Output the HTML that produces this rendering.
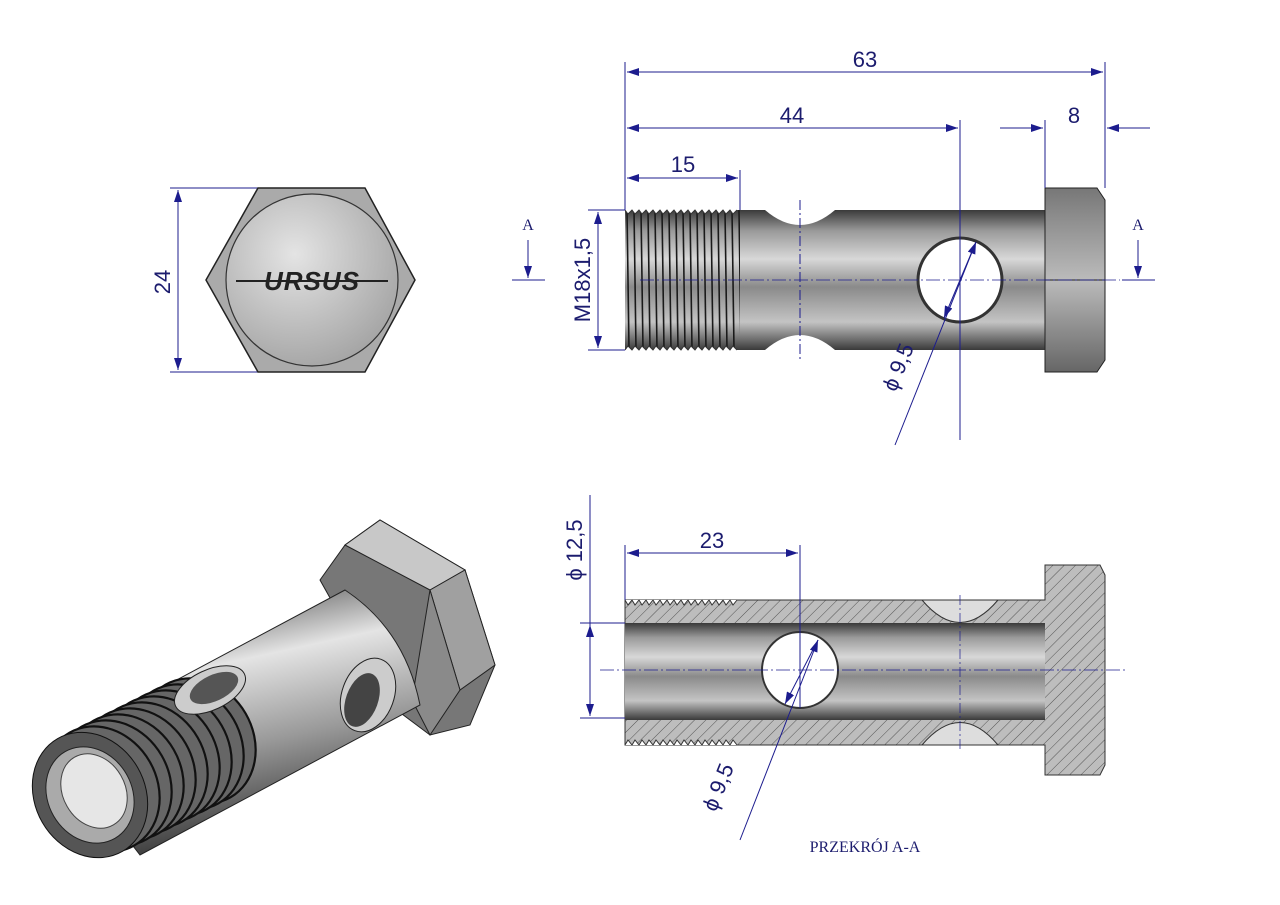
<!DOCTYPE html>
<html><head><meta charset="utf-8"><style>
html,body{margin:0;padding:0;background:#fff;width:1280px;height:905px;overflow:hidden}
svg text{font-family:"Liberation Sans",sans-serif;fill:#1c1c6e}
</style></head><body>
<svg width="1280" height="905" viewBox="0 0 1280 905" xmlns="http://www.w3.org/2000/svg">
<defs>
<linearGradient id="cyl" x1="0" y1="0" x2="0" y2="1">
<stop offset="0" stop-color="#3a3a3a"/><stop offset="0.15" stop-color="#9a9a9a"/><stop offset="0.35" stop-color="#d8d8d8"/><stop offset="0.55" stop-color="#8a8a8a"/><stop offset="0.8" stop-color="#c4c4c4"/><stop offset="1" stop-color="#3a3a3a"/></linearGradient>
<linearGradient id="head" x1="0" y1="0" x2="0" y2="1">
<stop offset="0" stop-color="#777"/><stop offset="0.5" stop-color="#bbb"/><stop offset="1" stop-color="#666"/></linearGradient>
<radialGradient id="face" cx="0.4" cy="0.35" r="0.8"><stop offset="0" stop-color="#e4e4e4"/><stop offset="1" stop-color="#9a9a9a"/></radialGradient>
<linearGradient id="iso" x1="0.3" y1="0" x2="0.6" y2="1">
<stop offset="0" stop-color="#444"/><stop offset="0.3" stop-color="#e4e4e4"/><stop offset="0.6" stop-color="#999"/><stop offset="1" stop-color="#222"/></linearGradient>
<pattern id="hatch" width="8" height="8" patternUnits="userSpaceOnUse" patternTransform="rotate(45)">
<rect width="8" height="8" fill="#bdbdbd"/><line x1="0" y1="0" x2="0" y2="8" stroke="#555" stroke-width="1"/></pattern>
<pattern id="thr" width="7" height="140" patternUnits="userSpaceOnUse" x="625" y="210">
<line x1="2" y1="0" x2="4" y2="140" stroke="#1a1a1a" stroke-width="1.6"/></pattern>
<marker id="ar" markerWidth="12" markerHeight="8" refX="12" refY="4" orient="auto-start-reverse" markerUnits="userSpaceOnUse"><path d="M0,0 L12,4 L0,8 Z" fill="#1c1c8e"/></marker>
</defs>
<g stroke="#1c1c8e" stroke-width="1" fill="none">
<line x1="170" y1="188" x2="260" y2="188"/><line x1="170" y1="372" x2="260" y2="372"/>
<line x1="178" y1="190" x2="178" y2="370" marker-start="url(#ar)" marker-end="url(#ar)"/>
</g>
<polygon points="258,188 365,188 415,280 365,372 258,372 206,280" fill="#aaa" stroke="#222" stroke-width="1.5"/>
<circle cx="312" cy="280" r="86" fill="url(#face)" stroke="#333" stroke-width="1.2"/>
<text x="312" y="290" font-size="26" font-weight="bold" text-anchor="middle" style="fill:#222;letter-spacing:1px;font-style:italic">URSUS</text>
<line x1="236" y1="281" x2="388" y2="281" stroke="#222" stroke-width="2"/>
<text x="176" y="282" font-size="22" text-anchor="middle" transform="rotate(-90 176 282)" dy="-6">24</text>

<!-- side view -->
<rect x="740" y="210" width="305" height="140" fill="url(#cyl)"/>
<path d="M765,210 Q800,240 835,210 Z" fill="#fff"/>
<path d="M765,350 Q800,320 835,350 Z" fill="#fff"/>
<rect x="625" y="210" width="115" height="140" fill="url(#cyl)"/>
<rect x="625" y="210" width="115" height="140" fill="url(#thr)"/>
<path d="M625,210 l3,4 l4,-4 l3,4 l4,-4 l3,4 l4,-4 l3,4 l4,-4 l3,4 l4,-4 l3,4 l4,-4 l3,4 l4,-4 l3,4 l4,-4 l3,4 l4,-4 l3,4 l4,-4 l3,4 l4,-4 l3,4 l4,-4 l3,4 l4,-4 l3,4 l4,-4 l3,4 l4,-4 l3,4 l4,-4" fill="#fff" stroke="#333"/>
<path d="M625,350 l3,-4 l4,4 l3,-4 l4,4 l3,-4 l4,4 l3,-4 l4,4 l3,-4 l4,4 l3,-4 l4,4 l3,-4 l4,4 l3,-4 l4,4 l3,-4 l4,4 l3,-4 l4,4 l3,-4 l4,4 l3,-4 l4,4 l3,-4 l4,4 l3,-4 l4,4 l3,-4 l4,4 l3,-4 l4,4" fill="#fff" stroke="#333"/>
<path d="M1045,188 L1097,188 L1105,200 L1105,360 L1097,372 L1045,372 Z" fill="url(#head)" stroke="#222"/>
<line x1="1045" y1="280" x2="1105" y2="280" stroke="#222"/>
<circle cx="960" cy="280" r="42" fill="#fff" stroke="#333" stroke-width="3"/>
<g stroke="#1c1c8e" stroke-width="1" fill="none">
<line x1="625" y1="62" x2="625" y2="210"/><line x1="1105" y1="62" x2="1105" y2="188"/>
<line x1="740" y1="170" x2="740" y2="210"/><line x1="960" y1="120" x2="960" y2="440"/><line x1="1045" y1="120" x2="1045" y2="188"/>
<line x1="800" y1="200" x2="800" y2="360" stroke-dasharray="10,3,2,3"/>
<line x1="627" y1="72" x2="1103" y2="72" marker-start="url(#ar)" marker-end="url(#ar)"/>
<line x1="627" y1="128" x2="958" y2="128" marker-start="url(#ar)" marker-end="url(#ar)"/>
<line x1="627" y1="178" x2="738" y2="178" marker-start="url(#ar)" marker-end="url(#ar)"/>
<line x1="1000" y1="128" x2="1043" y2="128" marker-end="url(#ar)"/>
<line x1="1150" y1="128" x2="1107" y2="128" marker-end="url(#ar)"/>
<line x1="588" y1="210" x2="625" y2="210"/><line x1="588" y1="350" x2="625" y2="350"/>
<line x1="598" y1="212" x2="598" y2="348" marker-start="url(#ar)" marker-end="url(#ar)"/>
<line x1="895" y1="445" x2="976" y2="242" marker-end="url(#ar)"/>
<line x1="976" y1="242" x2="944" y2="318" marker-end="url(#ar)"/>
<line x1="512" y1="280" x2="545" y2="280"/><line x1="1122" y1="280" x2="1155" y2="280"/>
<line x1="528" y1="240" x2="528" y2="278" marker-end="url(#ar)"/>
<line x1="1138" y1="240" x2="1138" y2="278" marker-end="url(#ar)"/>
<line x1="640" y1="280" x2="1120" y2="280" stroke-dasharray="14,3,2,3" stroke-width="0.7"/>
</g>
<text x="865" y="67" font-size="22" text-anchor="middle">63</text>
<text x="792" y="123" font-size="22" text-anchor="middle">44</text>
<text x="683" y="172" font-size="22" text-anchor="middle">15</text>
<text x="1074" y="123" font-size="22" text-anchor="middle">8</text>
<text x="528" y="230" font-size="16" text-anchor="middle" style="font-family:'Liberation Serif',serif">A</text>
<text x="1138" y="230" font-size="16" text-anchor="middle" style="font-family:'Liberation Serif',serif">A</text>
<text x="590" y="280" font-size="22" text-anchor="middle" transform="rotate(-90 590 280)">M18x1,5</text>
<text x="905" y="370" font-size="22" text-anchor="middle" transform="rotate(-68 905 370)">ϕ 9,5</text>

<!-- section view -->
<path d="M625,600 L625,745 L1045,745 L1045,775 L1100,775 L1105,765 L1105,575 L1100,565 L1045,565 L1045,600 Z" fill="url(#hatch)" stroke="#333"/>
<rect x="625" y="623" width="420" height="97" fill="url(#cyl)"/>
<path d="M922,600 Q960,645 998,600 Z" fill="#ddd" stroke="#333"/>
<path d="M922,745 Q960,700 998,745 Z" fill="#ddd" stroke="#333"/>
<path d="M625,600 l3,5 l4,-5 l3,5 l4,-5 l3,5 l4,-5 l3,5 l4,-5 l3,5 l4,-5 l3,5 l4,-5 l3,5 l4,-5 l3,5 l4,-5 l3,5 l4,-5 l3,5 l4,-5 l3,5 l4,-5 l3,5 l4,-5 l3,5 l4,-5 l3,5 l4,-5 l3,5 l4,-5 l3,5 l4,-5" fill="#fff" stroke="#333"/>
<path d="M625,745 l3,-5 l4,5 l3,-5 l4,5 l3,-5 l4,5 l3,-5 l4,5 l3,-5 l4,5 l3,-5 l4,5 l3,-5 l4,5 l3,-5 l4,5 l3,-5 l4,5 l3,-5 l4,5 l3,-5 l4,5 l3,-5 l4,5 l3,-5 l4,5 l3,-5 l4,5 l3,-5 l4,5 l3,-5 l4,5" fill="#fff" stroke="#333"/>
<circle cx="800" cy="670" r="38" fill="#fff" stroke="#333" stroke-width="2"/>
<g stroke="#1c1c8e" stroke-width="1" fill="none">
<line x1="625" y1="545" x2="625" y2="600"/><line x1="800" y1="545" x2="800" y2="708"/>
<line x1="627" y1="553" x2="798" y2="553" marker-start="url(#ar)" marker-end="url(#ar)"/>
<line x1="580" y1="623" x2="625" y2="623"/><line x1="580" y1="718" x2="625" y2="718"/>
<line x1="590" y1="495" x2="590" y2="716" marker-end="url(#ar)"/>
<line x1="590" y1="716" x2="590" y2="625" marker-end="url(#ar)"/>
<line x1="740" y1="840" x2="818" y2="640" marker-end="url(#ar)"/>
<line x1="818" y1="640" x2="785" y2="704" marker-end="url(#ar)"/>
<line x1="600" y1="670" x2="1125" y2="670" stroke-dasharray="14,3,2,3" stroke-width="0.7"/>
<line x1="960" y1="595" x2="960" y2="750" stroke-dasharray="10,3,2,3" stroke-width="0.7"/>
</g>
<text x="712" y="548" font-size="22" text-anchor="middle">23</text>
<text x="582" y="550" font-size="22" text-anchor="middle" transform="rotate(-90 582 550)">ϕ 12,5</text>
<text x="725" y="790" font-size="22" text-anchor="middle" transform="rotate(-68 725 790)">ϕ 9,5</text>
<text x="865" y="852" font-size="16" text-anchor="middle" style="font-family:'Liberation Serif',serif">PRZEKRÓJ A-A</text>

<!-- iso view -->
<g>
<polygon points="320,580 345,545 380,520 465,570 495,665 470,725 430,735 390,705" fill="#777" stroke="#222"/>
<polygon points="345,545 380,520 465,570 430,590" fill="#c8c8c8" stroke="#222"/>
<polygon points="430,590 465,570 495,665 460,690" fill="#a0a0a0" stroke="#222"/>
<polygon points="430,590 460,690 430,735 412,700" fill="#8a8a8a" stroke="#222"/>
<path d="M55,745 L345,590 Q405,630 420,705 L140,855 Z" fill="url(#iso)" stroke="#222"/>
<g stroke="#111" stroke-width="2.2" fill="#666">
<ellipse cx="198" cy="741" rx="55" ry="65" transform="rotate(-30 198 741)"/>
<ellipse cx="186" cy="747" rx="55" ry="65" transform="rotate(-30 186 747)"/>
<ellipse cx="174" cy="753" rx="55" ry="65" transform="rotate(-30 174 753)"/>
<ellipse cx="162" cy="759" rx="55" ry="65" transform="rotate(-30 162 759)"/>
<ellipse cx="150" cy="765" rx="55" ry="65" transform="rotate(-30 150 765)"/>
<ellipse cx="138" cy="771" rx="55" ry="65" transform="rotate(-30 138 771)"/>
<ellipse cx="126" cy="777" rx="55" ry="65" transform="rotate(-30 126 777)"/>
<ellipse cx="114" cy="783" rx="55" ry="65" transform="rotate(-30 114 783)"/>
<ellipse cx="102" cy="789" rx="55" ry="65" transform="rotate(-30 102 789)"/>
</g>
<ellipse cx="90" cy="795" rx="55" ry="65" transform="rotate(-30 90 795)" fill="#555" stroke="#111"/>
<ellipse cx="90" cy="795" rx="42" ry="50" transform="rotate(-30 90 795)" fill="#aaa" stroke="#222"/>
<ellipse cx="94" cy="791" rx="31" ry="39" transform="rotate(-30 94 791)" fill="#e6e6e6" stroke="#444"/>
<ellipse cx="210" cy="690" rx="38" ry="20" transform="rotate(-25 210 690)" fill="#ccc" stroke="#222"/>
<ellipse cx="214" cy="688" rx="26" ry="13" transform="rotate(-25 214 688)" fill="#555"/>
<ellipse cx="368" cy="695" rx="26" ry="38" transform="rotate(20 368 695)" fill="#ccc" stroke="#222"/>
<ellipse cx="362" cy="700" rx="16" ry="28" transform="rotate(20 362 700)" fill="#444"/>
</g>
</svg>
</body></html>
